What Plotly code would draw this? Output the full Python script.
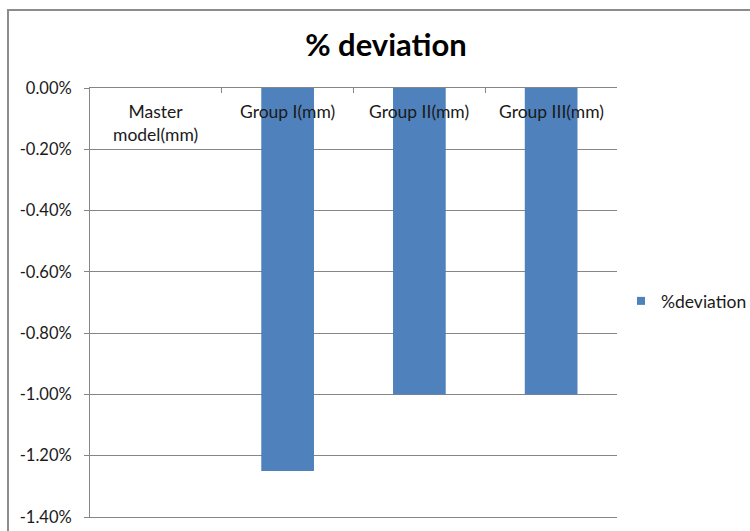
import plotly.graph_objects as go

categories = ["Master<br>model(mm)", "Group I(mm)", "Group II(mm)", "Group III(mm)"]
deviation = [0.0, -0.0125, -0.0100, -0.0100]
series_name = "%deviation"
title_text = "% deviation"
y_tickvals = [0.0, -0.002, -0.004, -0.006, -0.008, -0.010, -0.012, -0.014]
y_ticktext = ["0.00%", "-0.20%", "-0.40%", "-0.60%", "-0.80%", "-1.00%", "-1.20%", "-1.40%"]

W, H = 750, 531
L, R, T, B = 90, 133, 88, 14
pw, ph = W - L - R, H - T - B

FONT = "Lato"
GRID = "#868686"
BAR = "#4F81BD"
TXT = "#1a1a1a"

fig = go.Figure()
fig.add_trace(go.Bar(
    x=categories, y=deviation, name=series_name,
    marker=dict(color=BAR, line=dict(width=0)),
    width=0.4, showlegend=False,
))
# legend entry with a small square swatch
fig.add_trace(go.Scatter(
    x=[None], y=[None], mode="markers", name=series_name,
    marker=dict(symbol="square", size=8, color=BAR), showlegend=True,
))

# category labels just below the zero line
for c in categories:
    fig.add_annotation(x=c, y=0, xref="x", yref="y", text=c, showarrow=False,
                       xanchor="center", yanchor="top", yshift=-11, align="center",
                       font=dict(family=FONT, size=17.5, color=TXT))

# outer chart border (left and top edges visible)
fig.add_shape(type="path", xref="paper", yref="paper",
              path=f"M {(8-L)/pw} {-0.2} L {(8-L)/pw} {(H-B-10)/ph} L 1.6 {(H-B-10)/ph}",
              line=dict(color="#8C8C8C", width=2))

fig.update_layout(
    width=W, height=H,
    margin=dict(l=L, r=R, t=T, b=B, autoexpand=False),
    paper_bgcolor="white", plot_bgcolor="white",
    font=dict(family=FONT, size=17, color=TXT),
    title=dict(text=f"<b>{title_text}</b>", x=386 / W, xanchor="center",
               y=1 - 45 / H, yanchor="middle", yref="container",
               font=dict(family=FONT, size=31, color="black")),
    showlegend=True,
    legend=dict(x=(621 - L) / pw, y=(H - B - 301) / ph, xanchor="left", yanchor="middle",
                font=dict(family=FONT, size=17.5, color=TXT),
                bgcolor="rgba(0,0,0,0)", itemwidth=30),
    xaxis=dict(
        side="top", showline=True, linecolor=GRID, linewidth=1, mirror=True,
        ticks="inside", ticklen=5, tickcolor=GRID, tickson="boundaries",
        showticklabels=False, showgrid=False, zeroline=False,
        range=[-0.5, 3.5],
    ),
    yaxis=dict(
        range=[-0.014, 0], tickvals=y_tickvals, ticktext=y_ticktext,
        showgrid=True, gridcolor=GRID, gridwidth=1,
        showline=True, linecolor=GRID, linewidth=1,
        ticks="outside", ticklen=5, tickcolor=GRID,
        zeroline=False, ticklabelstandoff=9,
        tickfont=dict(family=FONT, size=16.5, color=TXT),
    ),
)

fig.write_html("out.html")
